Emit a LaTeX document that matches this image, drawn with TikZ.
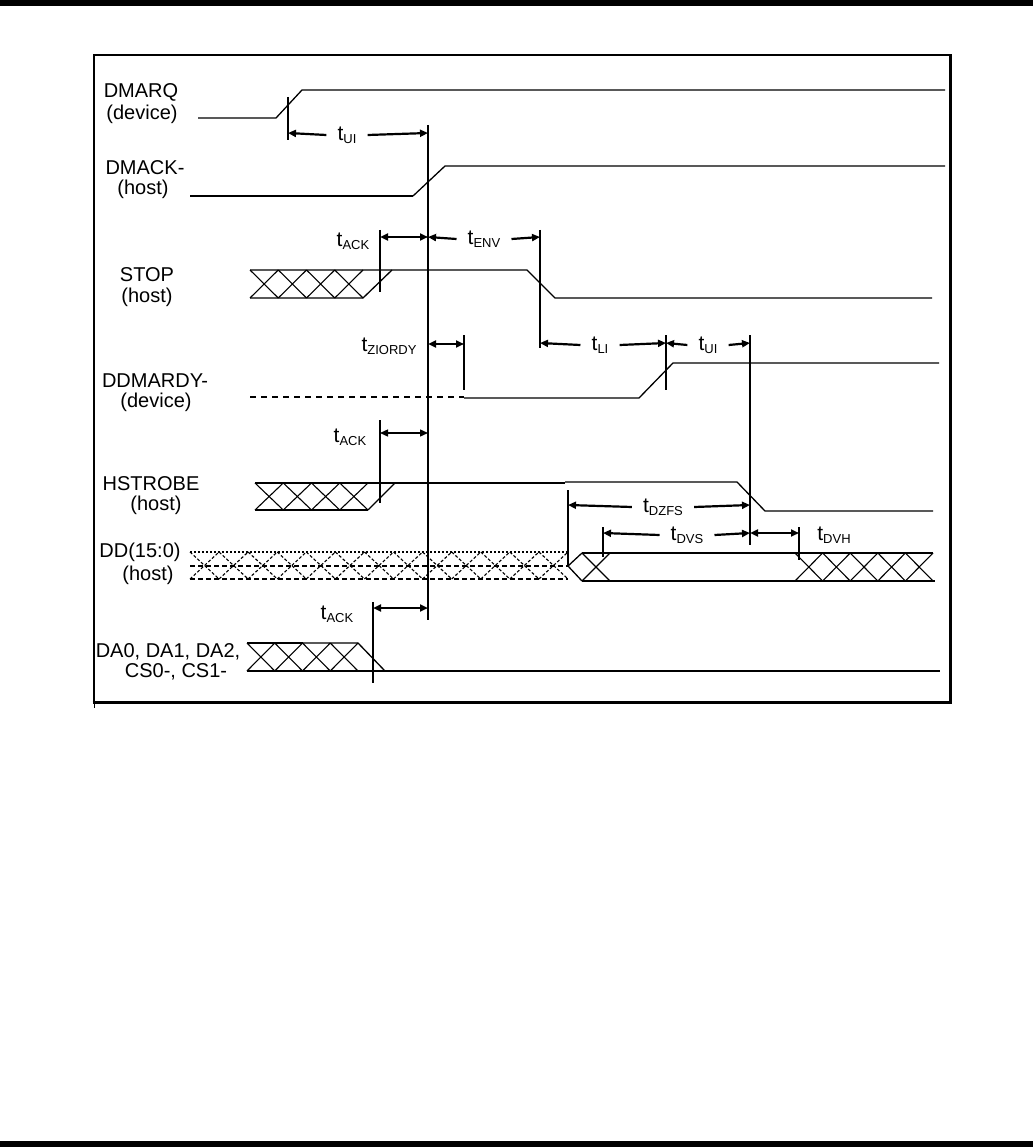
\documentclass[tikz,border=0pt]{standalone}
\usepackage{fontspec}
\setmainfont{Liberation Sans}
\usetikzlibrary{arrows.meta}
\newcommand\tsub[1]{{\fontsize{21}{21}\selectfont t}\raisebox{-3pt}{\fontsize{13}{13}\selectfont #1}}
\newcommand\myhatch[6]{%
  \foreach \hi in {1,...,#6}{%
    \pgfmathsetmacro\ha{#2+(\hi-1)*(#3-#2)/#6}%
    \pgfmathsetmacro\hb{#2+\hi*(#3-#2)/#6}%
    \draw[#1] (\ha,#4) -- (\hb,#5) (\ha,#5) -- (\hb,#4);
  }}
\begin{document}
\begin{tikzpicture}[x=1pt,y=-1pt,
  sig/.style={line width=1.3pt},
  sigb/.style={line width=2.5pt},
  hatchline/.style={line width=1.1pt},
  dashhatch/.style={line width=1.1pt,dash pattern=on 3pt off 2pt},
  mkthin/.style={line width=1.3pt},
  mkthick/.style={line width=2.6pt},
  tip/.style={-{Triangle[length=8pt,width=7pt]}},
  dimline/.style={line width=2.2pt,tip},
  dimboth/.style={line width=2.2pt,{Triangle[length=8pt,width=7pt]}-{Triangle[length=8pt,width=7pt]}},
  lab/.style={font=\fontsize{20}{22}\selectfont, inner sep=0pt},
  tlab/.style={font=\fontsize{20}{22}\selectfont, inner xsep=11pt, inner ysep=0pt},
]
\useasboundingbox (0,0) rectangle (1033,1147);
% page bars
\fill (0,0) rectangle (1033,6);
\fill (0,1141) rectangle (1033,1147);
% frame
\draw[line width=1.4pt] (949,55) -- (94,55) -- (94,702);
\draw[line width=3pt] (92.6,702) -- (950.5,702) -- (950.5,54.3);
\draw[line width=1pt] (94,704) -- (94,708);

% signal names
\node[lab] (n1a) at (141,92) {DMARQ};
\node[lab] (n1b) at (142,114) {(device)};
\node[lab] (n2a) at (145,168) {DMACK-};
\node[lab] (n2b) at (143,189) {(host)};
\node[lab] (n3a) at (147,275) {STOP};
\node[lab] (n3b) at (147,297) {(host)};
\node[lab] (n4a) at (155,381) {DDMARDY-};
\node[lab] (n4b) at (156,402) {(device)};
\node[lab] (n5a) at (151,484) {HSTROBE};
\node[lab] (n5b) at (156,505) {(host)};
\node[lab] (n6a) at (140,552) {DD(15:0)};
\node[lab] (n6b) at (148,575) {(host)};
\node[lab] (n7a) at (168,652) {DA0, DA1, DA2,};
\node[lab] (n7b) at (176,672) {CS0-, CS1-};

% DMARQ
\draw[sig] (198,118) -- (276,118) -- (302,90) -- (945,90);
% DMACK-
\draw[sigb] (190,196) -- (413,196);
\draw[sig] (413,196) -- (445,166) -- (945,166);
% STOP
\draw[sig] (250,270) -- (527,270) -- (555,298) -- (932,298);
\draw[sig] (250,298) -- (363,298) -- (392,270);
\myhatch{hatchline}{250}{363}{270}{298}{4}
% DDMARDY-
\draw[sig,dash pattern=on 6pt off 5pt] (250,397) -- (464,397);
\draw[sig] (464,398) -- (639,398) -- (673,363) -- (939,363);
% HSTROBE
\draw[sig] (255,483) -- (395,483);
\draw[sigb] (255,510) -- (368,510);
\draw[sig] (368,510) -- (395,483);
\draw[sigb] (395,483) -- (565,483);
\draw[sig] (565,482) -- (737,482) -- (765,511) -- (933,511);
\myhatch{hatchline}{255}{368}{483}{510}{4}
% DD(15:0)
\draw[line width=1.6pt,dash pattern=on 2pt off 2pt] (190,552) -- (568,552);
\draw[sig,dash pattern=on 5pt off 3pt] (190,566) -- (568,566);
\draw[sig,dash pattern=on 5pt off 3pt] (190,579) -- (568,579);
\myhatch{dashhatch}{190}{568}{552}{579}{13}
\draw[sig] (582,553) -- (568,566) -- (582,581);
\draw[sig] (582,553) -- (933,553);
\draw[sigb] (582,581) -- (935,581);
\myhatch{hatchline}{582}{610}{553}{581}{1}
\myhatch{hatchline}{795}{933}{553}{581}{5}
% DA / CS
\draw[sigb] (247,643) -- (303,643);
\draw[sig] (303,643) -- (358,643) -- (385,671);
\draw[sig] (247,671) -- (940,671);
\myhatch{hatchline}{247}{358}{643}{671}{4}

% reference lines
\draw[sig] (428,125) -- (428,620);
\draw[mkthick] (288,97) -- (288,140);
\draw[mkthick] (380,230) -- (380,292);
\draw[mkthin] (540,230) -- (540,348);
\draw[mkthin] (464,335) -- (464,390);
\draw[mkthin] (666,335) -- (666,390);
\draw[mkthick] (750,335) -- (750,545);
\draw[mkthick] (380,420) -- (380,503);
\draw[mkthin] (568,490) -- (568,566);
\draw[mkthin] (603,527) -- (603,557);
\draw[mkthin] (799,527) -- (799,560);
\draw[mkthin] (373,602) -- (373,683);

% end points of timing arrows
\coordinate (uiA) at (288,133);  \coordinate (uiB) at (428,133);
\coordinate (ackA) at (380,237); \coordinate (ackB) at (428,237);
\coordinate (envB) at (540,237);
\coordinate (zA) at (428,344);   \coordinate (zB) at (464,344);
\coordinate (liA) at (540,343);  \coordinate (liB) at (666,343);
\coordinate (ui2B) at (750,343);
\coordinate (ack2A) at (380,433); \coordinate (ack2B) at (428,433);
\coordinate (dzA) at (568,505);  \coordinate (dzB) at (750,505);
\coordinate (dvA) at (603,533);  \coordinate (dvB) at (750,533);
\coordinate (dhB) at (799,533);
\coordinate (ack3A) at (373,608); \coordinate (ack3B) at (428,608);

% t_UI (1)
\node[tlab] (tui) at (347,135) {\tsub{UI}};
\draw[dimline] (tui.west) -- (uiA);
\draw[dimline] (tui.east) -- (uiB);
% t_ACK (1)
\node[lab] (tack) at (353,241) {\tsub{ACK}};
\draw[dimboth] (ackA) -- (ackB);
% t_ENV
\node[tlab] (tenv) at (484,239) {\tsub{ENV}};
\draw[dimline] (tenv.west) -- (ackB);
\draw[dimline] (tenv.east) -- (envB);
% t_ZIORDY
\node[lab] (tzi) at (389,346) {\tsub{ZIORDY}};
\draw[dimboth] (zA) -- (zB);
% t_LI
\node[tlab] (tli) at (600,345) {\tsub{LI}};
\draw[dimline] (tli.west) -- (liA);
\draw[dimline] (tli.east) -- (liB);
% t_UI (2)
\node[tlab] (tui2) at (708,345) {\tsub{UI}};
\draw[dimline] (tui2.west) -- (liB);
\draw[dimline] (tui2.east) -- (ui2B);
% t_ACK (2)
\node[lab] (tack2) at (350,437) {\tsub{ACK}};
\draw[line width=1.4pt,{Triangle[length=8pt,width=7pt]}-{Triangle[length=8pt,width=7pt]}] (ack2A) -- (ack2B);
% t_DZFS
\node[tlab] (tdz) at (663,507) {\tsub{DZFS}};
\draw[dimline] (tdz.west) -- (dzA);
\draw[dimline] (tdz.east) -- (dzB);
% t_DVS
\node[tlab] (tdvs) at (687,535) {\tsub{DVS}};
\draw[dimline] (tdvs.west) -- (dvA);
\draw[dimline] (tdvs.east) -- (dvB);
% t_DVH
\node[lab] (tdvh) at (834,535) {\tsub{DVH}};
\draw[dimboth] (dvB) -- (dhB);
% t_ACK (3)
\node[lab] (tack3) at (337,614) {\tsub{ACK}};
\draw[dimboth] (ack3A) -- (ack3B);
\end{tikzpicture}
\end{document}
